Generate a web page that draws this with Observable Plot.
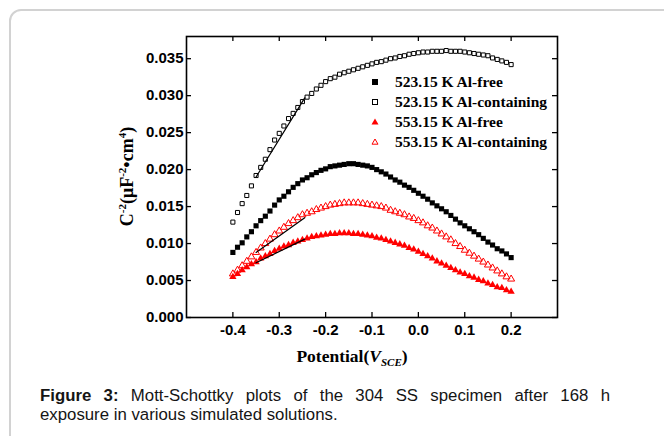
<!DOCTYPE html>
<html>
<head>
<meta charset="utf-8">
<script src="https://cdn.jsdelivr.net/npm/d3@7"></script>
<script src="https://cdn.jsdelivr.net/npm/@observablehq/plot@0.6"></script>
<style>
  html, body { margin: 0; padding: 0; background: #fff; }
  body { width: 664px; height: 436px; overflow: hidden; position: relative; font-family: "Liberation Sans", Arial, sans-serif; }
  #card { position: absolute; left: 9px; top: 9px; width: 720px; height: 500px; border: 2px solid #d2d2d2; border-radius: 12px; box-sizing: border-box; }
  #chart { position: absolute; left: 0; top: 0; }
  #legend { position: absolute; left: 368px; top: 72px; font-family: "Liberation Serif", "Times New Roman", serif; font-weight: bold; font-size: 15.5px; color: #000; }
  #legend .row { height: 20px; display: flex; align-items: center; white-space: nowrap; }
  #legend svg { width: 14px; height: 14px; margin-right: 13px; flex: none; }
  #caption { position: absolute; left: 40px; top: 386px; width: 570px; font-size: 16.8px; line-height: 19px; color: #151515; }
  #caption .l1 { text-align: justify; text-align-last: justify; }
</style>
</head>
<body>
<div id="card"></div>
<div id="chart"></div>
<div id="legend"></div>
<div id="caption">
  <div class="l1"><b>Figure 3:</b> Mott-Schottky plots of the 304 SS specimen after 168 h</div>
  <div>exposure in various simulated solutions.</div>
</div>
<script>
// ---------- data ----------
const potential = [-0.40,-0.39,-0.38,-0.37,-0.36,-0.35,-0.34,-0.33,-0.32,-0.31,
  -0.30,-0.29,-0.28,-0.27,-0.26,-0.25,-0.24,-0.23,-0.22,-0.21,
  -0.20,-0.19,-0.18,-0.17,-0.16,-0.15,-0.14,-0.13,-0.12,-0.11,
  -0.10,-0.09,-0.08,-0.07,-0.06,-0.05,-0.04,-0.03,-0.02,-0.01,
  0.00,0.01,0.02,0.03,0.04,0.05,0.06,0.07,0.08,0.09,
  0.10,0.11,0.12,0.13,0.14,0.15,0.16,0.17,0.18,0.19,0.20];

const k523AlFree = [0.0088,0.0095,0.0101,0.0109,0.0116,0.0124,0.0131,0.0137,0.0144,0.0152,
  0.0159,0.0164,0.0170,0.0176,0.0181,0.0186,0.0189,0.0193,0.0196,0.0199,
  0.0201,0.0204,0.0205,0.0206,0.0207,0.0208,0.0208,0.0207,0.0206,0.0205,
  0.0203,0.0200,0.0197,0.0194,0.0190,0.0186,0.0183,0.0179,0.0176,0.0172,
  0.0168,0.0164,0.0160,0.0155,0.0151,0.0147,0.0143,0.0138,0.0133,0.0128,
  0.0124,0.0120,0.0116,0.0112,0.0107,0.0102,0.0098,0.0093,0.0090,0.0086,0.0081];

const k523AlCont = [0.0129,0.0142,0.0154,0.0165,0.0178,0.0192,0.0203,0.0214,0.0227,0.0240,
  0.0249,0.0259,0.0269,0.0276,0.0284,0.0292,0.0298,0.0303,0.0309,0.0314,
  0.0319,0.0323,0.0325,0.0329,0.0331,0.0333,0.0335,0.0337,0.0339,0.0341,
  0.0343,0.0345,0.0346,0.0348,0.0350,0.0351,0.0353,0.0354,0.0356,0.0357,
  0.0358,0.0359,0.0359,0.0360,0.0360,0.0360,0.0361,0.0360,0.0360,0.0360,
  0.0359,0.0358,0.0357,0.0356,0.0355,0.0354,0.0351,0.0349,0.0347,0.0345,0.0342];

const k553AlFree = [0.0055,0.0059,0.0064,0.0068,0.0072,0.0075,0.0080,0.0083,0.0086,0.0090,
  0.0093,0.0096,0.0098,0.0101,0.0103,0.0105,0.0107,0.0109,0.0110,0.0111,
  0.0112,0.0113,0.0113,0.0114,0.0114,0.0114,0.0113,0.0113,0.0112,0.0111,
  0.0110,0.0108,0.0107,0.0105,0.0103,0.0101,0.0099,0.0097,0.0094,0.0092,
  0.0089,0.0086,0.0083,0.0080,0.0076,0.0073,0.0070,0.0067,0.0064,0.0061,
  0.0059,0.0056,0.0054,0.0051,0.0049,0.0046,0.0044,0.0041,0.0040,0.0037,0.0035];

const k553AlCont = [0.0059,0.0064,0.0070,0.0076,0.0082,0.0088,0.0094,0.0100,0.0106,0.0112,
  0.0117,0.0122,0.0127,0.0131,0.0135,0.0139,0.0141,0.0143,0.0146,0.0148,
  0.0150,0.0152,0.0153,0.0154,0.0155,0.0155,0.0155,0.0155,0.0154,0.0153,
  0.0152,0.0151,0.0150,0.0148,0.0145,0.0143,0.0141,0.0139,0.0136,0.0134,
  0.0131,0.0128,0.0124,0.0121,0.0117,0.0113,0.0109,0.0105,0.0100,0.0096,
  0.0091,0.0087,0.0083,0.0079,0.0075,0.0071,0.0067,0.0063,0.0059,0.0055,0.0052];

// linear fit segments (Mott-Schottky slopes)
const fitX = [-0.35, -0.245];
const fit523AlCont = [0.0190, 0.0297];
const fit553AlCont = [0.0088, 0.0135];
const fit553AlFree = [0.0074, 0.0106];

const xTicks = [-0.4, -0.3, -0.2, -0.1, 0.0, 0.1, 0.2];
const yTicks = [0.000, 0.005, 0.010, 0.015, 0.020, 0.025, 0.030, 0.035];

const seriesLabels = ["523.15 K Al-free", "523.15 K Al-containing", "553.15 K Al-free", "553.15 K Al-containing"];

// ---------- chart ----------
const rows = ys => potential.map((x, i) => ({x, y: ys[i]}));
const fitRows = ys => fitX.map((x, i) => ({x, y: ys[i]}));

const W = 664, H = 372;
const mL = 186, mR = 107, mT = 36, mB = 55;
const innerW = W - mL - mR, innerH = H - mT - mB;
const tick = 5;

const axisFont = {fontSize: 15, fontWeight: "bold", fill: "#000"};

const chart = Plot.plot({
  width: W, height: H,
  marginLeft: mL, marginRight: mR, marginTop: mT, marginBottom: mB,
  style: {fontFamily: '"Liberation Sans", Arial, sans-serif', color: "#000", background: "transparent", overflow: "visible"},
  x: {domain: [-0.5, 0.3]},
  y: {domain: [0, 0.038]},
  marks: [
    Plot.axisX({ticks: xTicks, tickSize: 0, tickPadding: 7, tickFormat: d => d.toFixed(1), label: null, ...axisFont}),
    Plot.axisY({ticks: yTicks, tickSize: 0, tickPadding: 3, tickFormat: d => d.toFixed(3), label: null, ...axisFont}),
    Plot.tickX(xTicks, {x: d => d, insetTop: innerH - tick, stroke: "#000", strokeWidth: 1.3}),
    Plot.tickX(xTicks, {x: d => d, insetBottom: innerH - tick, stroke: "#000", strokeWidth: 1.3}),
    Plot.tickY(yTicks, {y: d => d, insetRight: innerW - tick, stroke: "#000", strokeWidth: 1.3}),
    Plot.tickY(yTicks, {y: d => d, insetLeft: innerW - tick, stroke: "#000", strokeWidth: 1.3}),
    Plot.frame({stroke: "#000", strokeWidth: 1.6}),
    Plot.dot(rows(k523AlCont), {x: "x", y: "y", symbol: "square", r: 2.3, fill: "#fff", stroke: "#000", strokeWidth: 1}),
    Plot.dot(rows(k523AlFree), {x: "x", y: "y", symbol: "square", r: 2.9, fill: "#000", stroke: "none"}),
    Plot.dot(rows(k553AlCont), {x: "x", y: "y", symbol: "triangle", r: 2.6, fill: "#fff", fillOpacity: 0, stroke: "#ff0000", strokeWidth: 1}),
    Plot.dot(rows(k553AlFree), {x: "x", y: "y", symbol: "triangle", r: 2.7, fill: "#ff0000", stroke: "none"}),
    Plot.line(fitRows(fit523AlCont), {x: "x", y: "y", stroke: "#000", strokeWidth: 1.2}),
    Plot.line(fitRows(fit553AlCont), {x: "x", y: "y", stroke: "#000", strokeWidth: 1.2}),
    Plot.line(fitRows(fit553AlFree), {x: "x", y: "y", stroke: "#000", strokeWidth: 1.2})
  ]
});
document.getElementById("chart").appendChild(chart);

// axis titles (rich text with super/subscripts)
const svg = d3.select(chart);
const yl = svg.append("text")
  .attr("transform", `translate(133,${mT + innerH / 2}) rotate(-90)`)
  .attr("text-anchor", "middle")
  .attr("font-family", '"Liberation Serif", "Times New Roman", serif')
  .attr("font-weight", "bold")
  .attr("font-size", 18)
  .attr("fill", "#000");
yl.append("tspan").text("C");
yl.append("tspan").attr("dy", -7).attr("font-size", 11).text("-2");
yl.append("tspan").attr("dy", 7).text("(μF");
yl.append("tspan").attr("dy", -7).attr("font-size", 11).text("-2");
yl.append("tspan").attr("dy", 7).text("•cm");
yl.append("tspan").attr("dy", -7).attr("font-size", 11).text("4");
yl.append("tspan").attr("dy", 7).text(")");

const xl = svg.append("text")
  .attr("x", 352).attr("y", 362)
  .attr("text-anchor", "middle")
  .attr("font-family", '"Liberation Serif", "Times New Roman", serif')
  .attr("font-weight", "bold")
  .attr("font-size", 17.5)
  .attr("fill", "#000");
xl.append("tspan").text("Potential(");
xl.append("tspan").attr("font-style", "italic").text("V");
xl.append("tspan").attr("font-style", "italic").attr("font-size", 11).attr("dy", 4).text("SCE");
xl.append("tspan").attr("dy", -4).text(")");

// legend
const symbols = [
  '<rect x="4" y="4" width="6" height="6" fill="#000"/>',
  '<rect x="4.5" y="4.5" width="5" height="5" fill="#fff" stroke="#000" stroke-width="1"/>',
  '<path d="M7,3.5 L10.5,9.5 L3.5,9.5 Z" fill="#ff0000"/>',
  '<path d="M7,4 L10,9.2 L4,9.2 Z" fill="none" stroke="#ff0000" stroke-width="1"/>'
];
const legend = document.getElementById("legend");
seriesLabels.forEach((lab, i) => {
  const row = document.createElement("div");
  row.className = "row";
  row.innerHTML = `<svg viewBox="0 0 14 14">${symbols[i]}</svg><span>${lab}</span>`;
  legend.appendChild(row);
});
</script>
</body>
</html>
